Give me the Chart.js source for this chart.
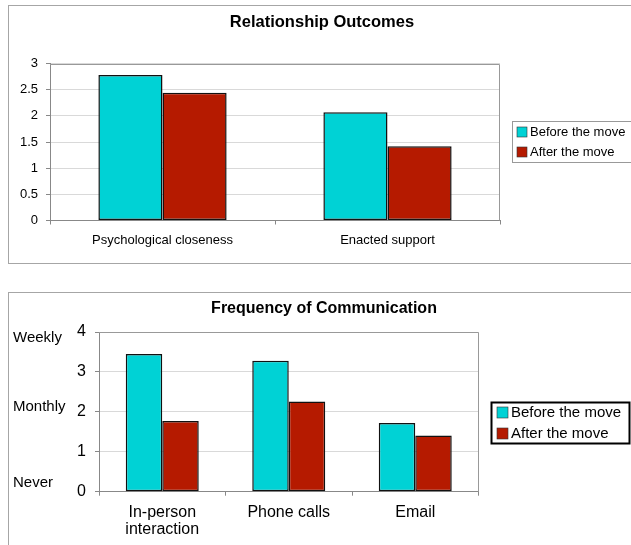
<!DOCTYPE html>
<html>
<head>
<meta charset="utf-8">
<title>Relationship Outcomes / Frequency of Communication</title>
<script src="https://cdn.jsdelivr.net/npm/chart.js@4.4.1/dist/chart.umd.min.js"></script>
<style>
  html, body { margin: 0; padding: 0; background: #fff; overflow: hidden; width: 631px; height: 545px; }
  .frame { position: absolute; border: 1px solid #a6a6a6; }
  canvas { position: absolute; left: 0; }
</style>
</head>
<body>
<div class="frame" style="left:8px; top:5px; width:700px; height:257px;"></div>
<div class="frame" style="left:8px; top:292px; width:700px; height:300px;"></div>
<canvas id="chartOutcomes" width="644" height="270" style="top:0"></canvas>
<canvas id="chartFreq" width="648" height="265" style="top:280px"></canvas>
<script>
// datos
const seriesNames = ['Before the move', 'After the move'];

const outcomeLabels = ['Psychological closeness', 'Enacted support'];
const outcomeBefore = [2.78, 2.07];
const outcomeAfter = [2.44, 1.42];
const outcomeTicks = { min: 0, max: 3, step: 0.5 };

const freqLabels = [['In-person', 'interaction'], 'Phone calls', 'Email'];
const freqBefore = [3.45, 3.28, 1.72];
const freqAfter = [1.77, 2.26, 1.41];
const freqTicks = { min: 0, max: 4, step: 1 };

// etiquetas de frecuencia al lado del eje y
const freqNames = ['Weekly', 'Monthly', 'Never'];
const freqLevels = [3.86, 2.12, 0.21];

const FONT = "'Liberation Sans', Arial, sans-serif";
const CYAN = '#00d2d5';
const RED = '#b51a00';

Chart.defaults.font.family = FONT;
Chart.defaults.color = '#000';

// borde del area, leyenda con caja y textos laterales (estilo Excel)
const excelLook = {
  id: 'excelLook',
  beforeDatasetsDraw(chart, args, opts) {
    const a = chart.chartArea, ctx = chart.ctx;
    const top = Math.round(a.top) + 0.5, right = Math.round(a.right) - 0.5;
    ctx.save();
    ctx.strokeStyle = '#999';
    ctx.lineWidth = 1;
    ctx.beginPath();
    ctx.moveTo(a.left, top);
    ctx.lineTo(right, top);
    ctx.lineTo(right, a.bottom);
    ctx.stroke();
    ctx.restore();
  },
  afterDraw(chart, args, opts) {
    const ctx = chart.ctx, lg = opts.legend;
    ctx.save();
    ctx.lineWidth = lg.borderWidth;
    ctx.strokeStyle = lg.borderColor;
    ctx.strokeRect(lg.x, lg.y, lg.w, lg.h);
    ctx.font = lg.fontSize + 'px ' + FONT;
    ctx.textBaseline = 'middle';
    ctx.textAlign = 'left';
    chart.data.datasets.forEach((ds, i) => {
      const cy = lg.y + lg.first + i * lg.rowH;
      ctx.fillStyle = ds.backgroundColor;
      ctx.fillRect(lg.boxX, cy - lg.box / 2, lg.box, lg.box);
      ctx.lineWidth = 0.6;
      ctx.strokeStyle = '#333';
      ctx.strokeRect(lg.boxX, cy - lg.box / 2, lg.box, lg.box);
      ctx.fillStyle = '#000';
      ctx.fillText(ds.label, lg.textX, cy);
    });

    if (opts.side) {
      const y = chart.scales.y;
      ctx.font = opts.side.fontSize + 'px ' + FONT;
      opts.side.names.forEach((t, i) => {
        ctx.fillText(t, opts.side.x, y.getPixelForValue(opts.side.levels[i]));
      });
    }
    ctx.restore();
  }
};

function makeDatasets(before, after) {
  return [
    { label: seriesNames[0], data: before, backgroundColor: CYAN },
    { label: seriesNames[1], data: after, backgroundColor: RED }
  ];
}

// Grafica 1: Relationship Outcomes
new Chart(document.getElementById('chartOutcomes'), {
  type: 'bar',
  data: { labels: outcomeLabels, datasets: makeDatasets(outcomeBefore, outcomeAfter) },
  options: {
    responsive: false,
    animation: false,
    layout: { padding: { left: 0, right: 0, top: 0, bottom: 19.5 } },
    datasets: {
      bar: { barPercentage: 1, categoryPercentage: 0.57, borderWidth: 1.5, borderColor: '#111', borderSkipped: false }
    },
    scales: {
      x: {
        grid: { drawOnChartArea: false, drawTicks: true, tickLength: 4, color: '#888', offset: true },
        border: { color: '#888' },
        ticks: { font: { size: 13 }, padding: 8, color: '#000' },
        afterFit(s) { s.height = 30; }
      },
      y: {
        min: outcomeTicks.min, max: outcomeTicks.max,
        ticks: { stepSize: outcomeTicks.step, font: { size: 13 }, padding: 8, color: '#000',
                 callback: v => String(v) },
        grid: { color: '#d9d9d9', tickColor: '#888', tickLength: 4 },
        border: { color: '#888' },
        afterFit(s) { s.width = 50; }
      },
      yPad: {
        position: 'right', display: true,
        ticks: { display: false }, grid: { display: false }, border: { display: false },
        afterFit(s) { s.width = 144; }
      }
    },
    plugins: {
      legend: { display: false },
      tooltip: { enabled: false },
      title: {
        display: true, text: 'Relationship Outcomes', color: '#000',
        font: { size: 16.5, weight: 'bold' },
        padding: { top: 12.8, bottom: 30.9 }
      },
      excelLook: {
        legend: { x: 512.5, y: 121.5, w: 140, h: 41, borderWidth: 1, borderColor: '#999',
                  first: 10.5, rowH: 20, box: 10, boxX: 517, textX: 530, fontSize: 13 }
      }
    }
  },
  plugins: [excelLook]
});

// Grafica 2: Frequency of Communication
new Chart(document.getElementById('chartFreq'), {
  type: 'bar',
  data: { labels: freqLabels, datasets: makeDatasets(freqBefore, freqAfter) },
  options: {
    responsive: false,
    animation: false,
    layout: { padding: { left: 0, right: 0, top: 0, bottom: 3.3 } },
    datasets: {
      bar: { barPercentage: 1, categoryPercentage: 0.577, borderWidth: 1.5, borderColor: '#111', borderSkipped: false }
    },
    scales: {
      x: {
        grid: { drawOnChartArea: false, drawTicks: true, tickLength: 4, color: '#888', offset: true },
        border: { color: '#888' },
        ticks: { font: { size: 16, lineHeight: 1.05 }, padding: 8.6, color: '#000' },
        afterFit(s) { s.height = 50; }
      },
      y: {
        min: freqTicks.min, max: freqTicks.max,
        ticks: { stepSize: freqTicks.step, font: { size: 16 }, padding: 9, color: '#000' },
        grid: { color: '#d9d9d9', tickColor: '#888', tickLength: 4 },
        border: { color: '#888' },
        afterFit(s) { s.width = 99; }
      },
      yPad: {
        position: 'right', display: true,
        ticks: { display: false }, grid: { display: false }, border: { display: false },
        afterFit(s) { s.width = 169.5; }
      }
    },
    plugins: {
      legend: { display: false },
      tooltip: { enabled: false },
      title: {
        display: true, text: 'Frequency of Communication', color: '#000',
        font: { size: 16, weight: 'bold' },
        padding: { top: 19.4, bottom: 13.4 }
      },
      excelLook: {
        legend: { x: 491.5, y: 122.5, w: 138, h: 41, borderWidth: 2, borderColor: '#000',
                  first: 10, rowH: 21, box: 11, boxX: 497, textX: 511, fontSize: 15 },
        side: { names: freqNames, levels: freqLevels, x: 13, fontSize: 15 }
      }
    }
  },
  plugins: [excelLook]
});
</script>
</body>
</html>
